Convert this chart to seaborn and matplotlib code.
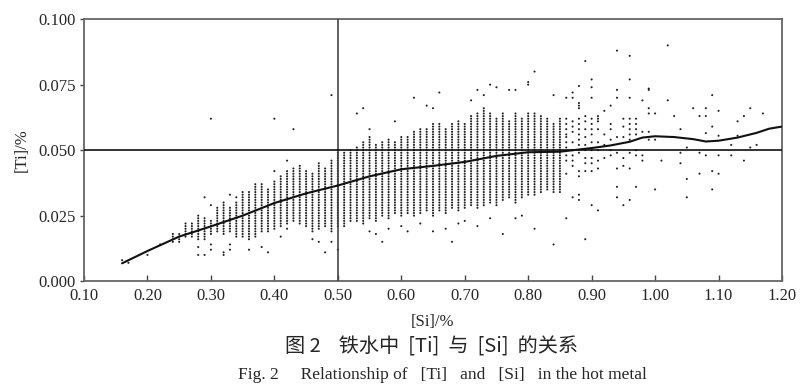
import numpy as np
import pandas as pd
import matplotlib
matplotlib.use("Agg")
import matplotlib.pyplot as plt
import seaborn as sns

# ---- dense band: per [Si] column, lowest and highest [Ti] of the filled stripe ----
band_si = [0.24, 0.25, 0.26, 0.27, 0.28, 0.29, 0.30, 0.31, 0.32, 0.33, 0.34, 0.35,
           0.36, 0.37, 0.38, 0.39, 0.40, 0.41, 0.42, 0.43, 0.44, 0.45, 0.46, 0.47,
           0.48, 0.49, 0.50, 0.51, 0.52, 0.53, 0.54, 0.55, 0.56, 0.57, 0.58, 0.59,
           0.60, 0.61, 0.62, 0.63, 0.64, 0.65, 0.66, 0.67, 0.68, 0.69, 0.70, 0.71,
           0.72, 0.73, 0.74, 0.75, 0.76, 0.77, 0.78, 0.79, 0.80, 0.81, 0.82, 0.83,
           0.84, 0.85]
band_low = [0.015, 0.015, 0.017, 0.017, 0.016, 0.016, 0.018, 0.019, 0.018, 0.019, 0.017, 0.017,
            0.016, 0.017, 0.019, 0.019, 0.020, 0.021, 0.022, 0.023, 0.022, 0.021, 0.019, 0.020,
            0.021, 0.019, 0.021, 0.021, 0.023, 0.023, 0.022, 0.024, 0.023, 0.025, 0.024, 0.026,
            0.025, 0.026, 0.025, 0.026, 0.027, 0.025, 0.027, 0.026, 0.028, 0.027, 0.028, 0.029,
            0.028, 0.029, 0.030, 0.029, 0.031, 0.032, 0.030, 0.032, 0.033, 0.033, 0.034, 0.035,
            0.034, 0.034]
band_high = [0.018, 0.018, 0.022, 0.022, 0.025, 0.024, 0.023, 0.028, 0.030, 0.028, 0.030, 0.034,
             0.034, 0.037, 0.037, 0.035, 0.038, 0.040, 0.042, 0.043, 0.044, 0.042, 0.041, 0.045,
             0.043, 0.046, 0.050, 0.049, 0.050, 0.051, 0.053, 0.055, 0.052, 0.053, 0.054, 0.053,
             0.055, 0.055, 0.057, 0.058, 0.058, 0.060, 0.060, 0.058, 0.060, 0.061, 0.060, 0.063,
             0.064, 0.066, 0.064, 0.062, 0.064, 0.061, 0.064, 0.062, 0.064, 0.064, 0.063, 0.062,
             0.060, 0.062]
band_step = 0.001

# ---- individual points outside the dense band ----
pt_si = [0.16, 0.17, 0.20, 0.22, 0.28, 0.28, 0.29, 0.29, 0.30, 0.30, 0.30, 0.30,
         0.32, 0.32, 0.33, 0.33, 0.33, 0.34, 0.36, 0.38, 0.39, 0.40, 0.40, 0.41,
         0.42, 0.42, 0.43, 0.46, 0.47, 0.48, 0.49, 0.49, 0.50, 0.53, 0.54, 0.55,
         0.57, 0.59, 0.62, 0.64, 0.65, 0.65, 0.66, 0.68, 0.71, 0.72, 0.73, 0.74,
         0.75, 0.76, 0.77, 0.78, 0.79, 0.80, 0.80, 0.81, 0.81, 0.84, 0.84,
         0.55, 0.56, 0.58, 0.60, 0.61, 0.63, 0.67, 0.69, 0.70, 0.72, 0.74, 0.78,
         0.86, 0.86, 0.86, 0.86, 0.86, 0.86, 0.86, 0.86, 0.86, 0.86, 0.86, 0.86,
         0.87, 0.87, 0.87, 0.87, 0.87, 0.87, 0.87, 0.87, 0.87, 0.87, 0.87,
         0.88, 0.88, 0.88, 0.88, 0.88, 0.88, 0.88, 0.88, 0.88, 0.88, 0.88, 0.88, 0.88, 0.88, 0.88,
         0.89, 0.89, 0.89, 0.89, 0.89, 0.89, 0.89, 0.89, 0.89, 0.89, 0.89,
         0.90, 0.90, 0.90, 0.90, 0.90, 0.90, 0.90, 0.90, 0.90, 0.90, 0.90, 0.90, 0.90,
         0.91, 0.91, 0.91, 0.91, 0.91, 0.91, 0.91, 0.91, 0.91,
         0.92, 0.92, 0.92, 0.92,
         0.93, 0.93, 0.93, 0.93, 0.93, 0.93,
         0.94, 0.94, 0.94, 0.94, 0.94, 0.94, 0.94, 0.94,
         0.95, 0.95, 0.95, 0.95, 0.95, 0.95,
         0.96, 0.96, 0.96, 0.96, 0.96, 0.96, 0.96, 0.96, 0.96, 0.96, 0.96,
         0.97, 0.97, 0.97, 0.97, 0.97, 0.97, 0.97,
         0.98, 0.98, 0.98, 0.98,
         0.99, 0.99, 0.99, 0.99, 0.99, 0.99,
         1.00, 1.00, 1.00, 1.01, 1.02, 1.02, 1.03, 1.04, 1.04, 1.04,
         1.05, 1.05, 1.05, 1.06, 1.07, 1.07, 1.07, 1.08, 1.08, 1.08, 1.08,
         1.09, 1.09, 1.09, 1.09, 1.10, 1.10, 1.10, 1.10, 1.12, 1.12,
         1.13, 1.13, 1.14, 1.14, 1.15, 1.15, 1.16, 1.17]
pt_ti = [0.008, 0.007, 0.010, 0.014, 0.010, 0.013, 0.010, 0.032, 0.012, 0.014, 0.029, 0.062,
         0.010, 0.011, 0.012, 0.014, 0.033, 0.032, 0.012, 0.013, 0.011, 0.042, 0.062, 0.017,
         0.020, 0.046, 0.058, 0.016, 0.015, 0.011, 0.015, 0.071, 0.012, 0.064, 0.066, 0.058,
         0.015, 0.061, 0.070, 0.067, 0.066, 0.019, 0.072, 0.015, 0.069, 0.073, 0.071, 0.075,
         0.074, 0.018, 0.073, 0.073, 0.025, 0.076, 0.075, 0.080, 0.020, 0.071, 0.014,
         0.019, 0.018, 0.020, 0.021, 0.019, 0.022, 0.020, 0.022, 0.023, 0.021, 0.024, 0.024,
         0.070, 0.062, 0.060, 0.058, 0.056, 0.055, 0.053, 0.051, 0.048, 0.046, 0.041, 0.024,
         0.072, 0.070, 0.061, 0.059, 0.057, 0.053, 0.050, 0.048, 0.046, 0.044, 0.032,
         0.0745, 0.068, 0.067, 0.066, 0.062, 0.060, 0.058, 0.056, 0.054, 0.052, 0.049, 0.042, 0.040, 0.033, 0.031,
         0.084, 0.063, 0.061, 0.058, 0.055, 0.052, 0.050, 0.047, 0.045, 0.042, 0.016,
         0.077, 0.074, 0.070, 0.062, 0.060, 0.058, 0.056, 0.053, 0.050, 0.047, 0.045, 0.042, 0.029,
         0.063, 0.062, 0.061, 0.058, 0.053, 0.050, 0.046, 0.043, 0.027,
         0.065, 0.056, 0.052, 0.047,
         0.067, 0.060, 0.058, 0.054, 0.050, 0.048,
         0.088, 0.073, 0.070, 0.055, 0.049, 0.043, 0.036, 0.032,
         0.062, 0.059, 0.055, 0.047, 0.044, 0.029,
         0.086, 0.077, 0.070, 0.062, 0.060, 0.058, 0.056, 0.054, 0.049, 0.043, 0.031,
         0.062, 0.060, 0.058, 0.056, 0.050, 0.048, 0.036,
         0.069, 0.057, 0.048, 0.046,
         0.0735, 0.073, 0.066, 0.064, 0.057, 0.054,
         0.064, 0.054, 0.035, 0.046, 0.090, 0.069, 0.063, 0.058, 0.049, 0.045,
         0.051, 0.039, 0.032, 0.066, 0.063, 0.049, 0.041, 0.066, 0.063, 0.0565, 0.048,
         0.071, 0.059, 0.042, 0.035, 0.065, 0.0555, 0.048, 0.041, 0.052, 0.048,
         0.061, 0.0555, 0.063, 0.046, 0.066, 0.051, 0.052, 0.064]

# ---- fitted trend line ----
fit_si = [0.16, 0.20, 0.25, 0.30, 0.35, 0.40, 0.45, 0.50, 0.55, 0.60, 0.65, 0.70,
          0.75, 0.80, 0.85, 0.90, 0.93, 0.96, 0.98, 1.00, 1.03, 1.06, 1.08, 1.10,
          1.13, 1.16, 1.18, 1.20]
fit_ti = [0.0068, 0.0115, 0.0170, 0.0209, 0.0250, 0.0298, 0.0335, 0.0365, 0.0400, 0.0427,
          0.0440, 0.0455, 0.0478, 0.0492, 0.0494, 0.0508, 0.0518, 0.0532, 0.0548, 0.0553,
          0.0550, 0.0542, 0.0533, 0.0536, 0.0548, 0.0566, 0.0582, 0.0590]

x_ticks = [0.10, 0.20, 0.30, 0.40, 0.50, 0.60, 0.70, 0.80, 0.90, 1.00, 1.10, 1.20]
y_ticks = [0.000, 0.025, 0.050, 0.075, 0.100]
ref_si = 0.50
ref_ti = 0.050

# ---- assemble points ----
xs, ys = [], []
for s, lo, hi in zip(band_si, band_low, band_high):
    vals = np.arange(lo, hi + band_step / 2, band_step)
    xs.extend([s] * len(vals))
    ys.extend(vals.tolist())
xs.extend(pt_si)
ys.extend(pt_ti)
pts = pd.DataFrame({"si": xs, "ti": ys})
fit = pd.DataFrame({"si": fit_si, "ti": fit_ti})

sns.set_theme(style="white")
plt.rcParams["font.family"] = ["Liberation Serif", "DejaVu Serif"]

fig = plt.figure(figsize=(8.0, 3.91), dpi=100)
ax = fig.add_axes([0.105, 0.281, 0.8725, 0.670])

sns.scatterplot(data=pts, x="si", y="ti", ax=ax, marker="o", s=2.2,
                color="#202020", edgecolor="none", linewidth=0, zorder=2)
sns.lineplot(data=fit, x="si", y="ti", ax=ax, color="#111111", lw=1.5,
             zorder=4, estimator=None)

ax.axvline(ref_si, color="#444444", lw=1.2, zorder=3)
ax.axhline(ref_ti, color="#111111", lw=1.2, zorder=3)

ax.set_xlim(0.10, 1.20)
ax.set_ylim(0.0, 0.100)
ax.set_xticks(x_ticks)
ax.set_xticklabels([f"{v:.2f}" for v in x_ticks])
ax.set_yticks(y_ticks)
ax.set_yticklabels([f"{v:.3f}" for v in y_ticks])
ax.tick_params(axis="x", direction="in", length=4, width=1, color="#444444",
               labelsize=12, pad=5, bottom=True)
ax.tick_params(axis="y", direction="out", length=3, width=1, color="#444444",
               labelsize=12, pad=3, left=True)
for sp in ax.spines.values():
    sp.set_visible(True)
    sp.set_color("#666666")
    sp.set_linewidth(1.3)
ax.set_xlabel("")
ax.set_ylabel("[Ti]/%", fontsize=12, labelpad=6)
ax.grid(False)

fig.text(0.541, 0.176, "[Si]/%", ha="center", va="center", fontsize=12)
fig.text(0.539, 0.112, "图 2    铁水中  [Ti]  与  [Si]  的关系", ha="center", va="center",
         fontsize=14.5, family=["Noto Sans CJK SC", "DejaVu Sans"])
fig.text(0.553, 0.041, "Fig. 2     Relationship of   [Ti]   and   [Si]   in the hot metal",
         ha="center", va="center", fontsize=12.5)

fig.savefig("out.png", dpi=100)
